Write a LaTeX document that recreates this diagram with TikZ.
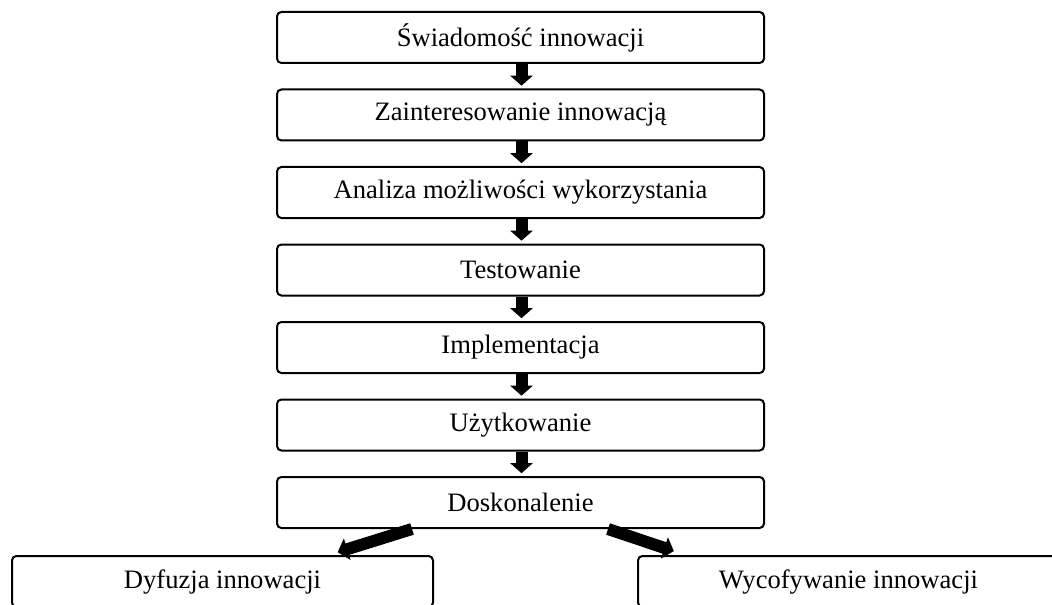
\documentclass[tikz,border=0pt]{standalone}
\usepackage{fontspec}
\setmainfont{Liberation Serif}
\usetikzlibrary{arrows.meta}
\begin{document}
\begin{tikzpicture}[x=0.5pt,y=-0.5pt,
  stage/.style={draw, line width=1pt, rounded corners=2.2pt, minimum width=243.5pt,
    minimum height=25.5pt, inner sep=0pt, font=\fontsize{13.3}{15}\selectfont},
  outcome/.style={stage, minimum width=210.5pt},
  blockarrow/.style={line width=6pt, -{Triangle[width=11pt,length=5pt]}, shorten >=1.4pt}]
  \useasboundingbox (0,0) rectangle (1052,604);
  \clip (0,0) rectangle (1052,604);
  % main sequence of stages
  \node[stage] (s1) at (520.5,37.5)  {Świadomość innowacji};
  \node[stage] (s2) at (520.5,115)   {Zainteresowanie innowacją};
  \node[stage] (s3) at (520.5,192.5) {Analiza możliwości wykorzystania};
  \node[stage] (s4) at (520.5,270)   {Testowanie};
  \node[stage] (s5) at (520.5,347.5) {Implementacja};
  \node[stage] (s6) at (520.5,425)   {Użytkowanie};
  \node[stage] (s7) at (520.5,502.5) {Doskonalenie};
  % two possible outcomes
  \node[outcome] (dyf) at (222.5,581.5) {Dyfuzja innowacji};
  \node[outcome] (wyc) at (848.5,581.5) {Wycofywanie innowacji};
  % arrows between stages
  \foreach \a/\b in {s1/s2,s2/s3,s3/s4,s4/s5,s5/s6,s6/s7}
    \draw[blockarrow] ([xshift=0.5pt]\a.south) -- ([xshift=0.5pt]\b.north);
  % branching arrows
  \draw[blockarrow] ([xshift=-54.25pt]s7.south) -- ([xshift=56.25pt,yshift=1pt]dyf.north);
  \draw[blockarrow] ([xshift=43.75pt]s7.south) -- ([xshift=-86pt,yshift=1.5pt]wyc.north);
\end{tikzpicture}
\end{document}
